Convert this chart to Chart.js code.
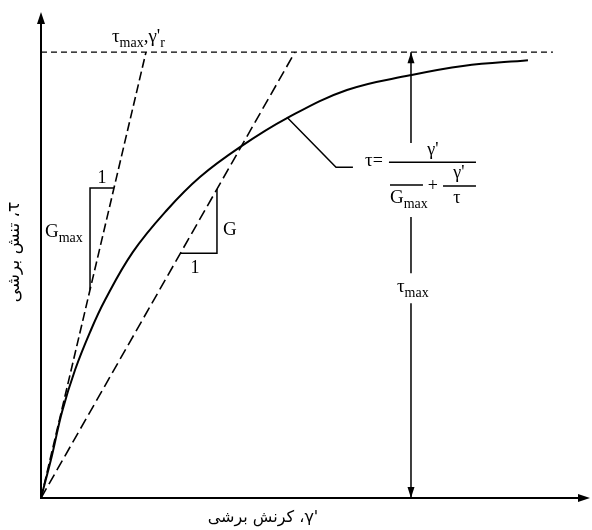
<!DOCTYPE html>
<html>
<head>
<meta charset="utf-8">
<script src="https://cdn.jsdelivr.net/npm/chart.js@4.4.1/dist/chart.umd.min.js"></script>
<style>
  body { margin: 0; background: #fff; }
</style>
</head>
<body>
<canvas id="chart" width="592" height="530"></canvas>
<script>
// Data (gamma in units of gamma_r, tau in units of tau_max)
const gamma = [0, 0.105, 0.2, 0.324, 0.467, 0.61, 0.876, 1.2, 1.514, 1.895, 2.343, 2.914, 3.514, 4.019, 4.638];
const tau = [0, 0.096, 0.193, 0.287, 0.372, 0.444, 0.552, 0.646, 0.72, 0.787, 0.852, 0.915, 0.948, 0.969, 0.982];
const gmaxLine = [[0, 0], [1, 1]];
const secantLine = [[0, 0], [2.419, 1]];
const tauMaxLine = [[0, 1], [4.876, 1]];
const tauMaxX = 3.524;
const arrowSegments = [[1, 0.796], [0.63, 0.504], [0.437, 0]];
const gmaxTriangle = [[0.695, 0.695], [0.467, 0.695], [0.467, 0.467]];
const gTriangle = [[1.676, 0.693], [1.676, 0.549], [1.328, 0.549]];
const leader = [[2.343, 0.854], [2.81, 0.742], [2.971, 0.742]];
const xMax = 5.229, yMax = 1.09;

// LRM keeps the prime on the right of gamma inside the RTL label
const xLabel = "γ'\u200E، کرنش برشی";
const yLabel = "τ، تنش برشی";

const pts = (arr) => arr.map(([x, y]) => ({ x, y }));
const arrowPts = [];
arrowSegments.forEach(([a, b], i) => {
    if (i > 0) arrowPts.push({ x: tauMaxX, y: null });
    arrowPts.push({ x: tauMaxX, y: a }, { x: tauMaxX, y: b });
});

const serif = "'Liberation Serif', 'Times New Roman', serif";

function rich(ctx, x, y, pieces) {
    ctx.textAlign = "left";
    ctx.textBaseline = "alphabetic";
    pieces.forEach(([t, size, dy]) => {
        ctx.font = size + "px " + serif;
        ctx.fillText(t, x, y + (dy || 0));
        x += ctx.measureText(t).width;
    });
}

function arrowHead(ctx, x, y, dir, len, half) {
    ctx.beginPath();
    if (dir === "up") { ctx.moveTo(x, y); ctx.lineTo(x - half, y + len); ctx.lineTo(x + half, y + len); }
    if (dir === "down") { ctx.moveTo(x, y); ctx.lineTo(x - half, y - len); ctx.lineTo(x + half, y - len); }
    if (dir === "right") { ctx.moveTo(x, y); ctx.lineTo(x - len, y - half); ctx.lineTo(x - len, y + half); }
    ctx.closePath();
    ctx.fill();
}

const decorations = {
    id: "decorations",
    afterDatasetsDraw(chart) {
        const ctx = chart.ctx;
        const sx = chart.scales.x, sy = chart.scales.y;
        const X = (v) => sx.getPixelForValue(v), Y = (v) => sy.getPixelForValue(v);
        ctx.save();
        ctx.fillStyle = "#000";
        ctx.strokeStyle = "#000";

        // axes
        ctx.lineWidth = 2;
        ctx.beginPath();
        ctx.moveTo(X(0), Y(yMax) + 6);
        ctx.lineTo(X(0), Y(0));
        ctx.lineTo(X(xMax) - 6, Y(0));
        ctx.stroke();
        arrowHead(ctx, X(0), Y(yMax), "up", 12, 4);
        arrowHead(ctx, X(xMax), Y(0), "right", 12, 4);

        // double arrow on tau_max
        arrowHead(ctx, X(tauMaxX), Y(1), "up", 11, 3.5);
        arrowHead(ctx, X(tauMaxX), Y(0), "down", 11, 3.5);

        // labels
        rich(ctx, X(0.676), Y(1.022), [["τ", 19], ["max", 14, 5], [",γ'", 19], ["r", 14, 5]]);
        ctx.font = "18px " + serif;
        ctx.textAlign = "center";
        ctx.fillText("1", X(0.581), Y(0.706));
        ctx.fillText("1", X(1.467), Y(0.504));
        rich(ctx, X(0.038), Y(0.585), [["G", 19], ["max", 14, 5]]);
        rich(ctx, X(1.733), Y(0.59), [["G", 19]]);
        rich(ctx, X(3.39), Y(0.462), [["τ", 19], ["max", 14, 5]]);

        // formula
        rich(ctx, X(3.086), Y(0.744), [["τ", 19], ["=", 18]]);
        ctx.lineWidth = 1.5;
        ctx.beginPath();
        ctx.moveTo(X(3.314), Y(0.753)); ctx.lineTo(X(4.143), Y(0.753));
        ctx.moveTo(X(3.324), Y(0.702)); ctx.lineTo(X(3.638), Y(0.702));
        ctx.moveTo(X(3.829), Y(0.7)); ctx.lineTo(X(4.143), Y(0.7));
        ctx.stroke();
        ctx.font = "18px " + serif;
        ctx.textAlign = "center";
        ctx.fillText("γ'", X(3.733), Y(0.769));
        ctx.fillText("γ'", X(3.981), Y(0.717));
        ctx.fillText("τ", X(3.962), Y(0.661));
        ctx.textBaseline = "middle";
        ctx.fillText("+", X(3.733), Y(0.7));
        rich(ctx, X(3.324), Y(0.661), [["G", 19], ["max", 14, 5]]);

        // axis titles (Persian, right-to-left)
        ctx.direction = "rtl";
        ctx.textAlign = "center";
        ctx.textBaseline = "middle";
        ctx.font = "16px 'DejaVu Sans', sans-serif";
        ctx.fillText(xLabel, 263, 518);
        ctx.translate(15, 252);
        ctx.rotate(-Math.PI / 2);
        ctx.font = "17px 'DejaVu Sans', sans-serif";
        ctx.fillText(yLabel, 0, 0);
        ctx.restore();
    }
};

const lineDs = (data, width, dash) => ({
    data, showLine: true, pointRadius: 0, borderColor: "#000", borderWidth: width,
    borderDash: dash || [], fill: false, spanGaps: false
});

new Chart(document.getElementById("chart"), {
    type: "scatter",
    data: {
        datasets: [
            Object.assign(lineDs(gamma.map((g, i) => ({ x: g, y: tau[i] })), 2), { tension: 0.4 }),
            lineDs(pts(gmaxLine), 1.6, [9, 4]),
            lineDs(pts(secantLine), 1.6, [11, 5]),
            lineDs(pts(tauMaxLine), 1.4, [6, 4]),
            lineDs(arrowPts, 1.5),
            lineDs(pts(gmaxTriangle), 1.5),
            lineDs(pts(gTriangle), 1.5),
            lineDs(pts(leader), 1.5)
        ]
    },
    options: {
        responsive: false,
        animation: false,
        layout: { padding: { left: 41, right: 2, top: 12, bottom: 32 } },
        plugins: { legend: { display: false }, tooltip: { enabled: false } },
        scales: {
            x: { type: "linear", min: 0, max: xMax, display: false },
            y: { type: "linear", min: 0, max: yMax, display: false }
        }
    },
    plugins: [decorations]
});
</script>
</body>
</html>
